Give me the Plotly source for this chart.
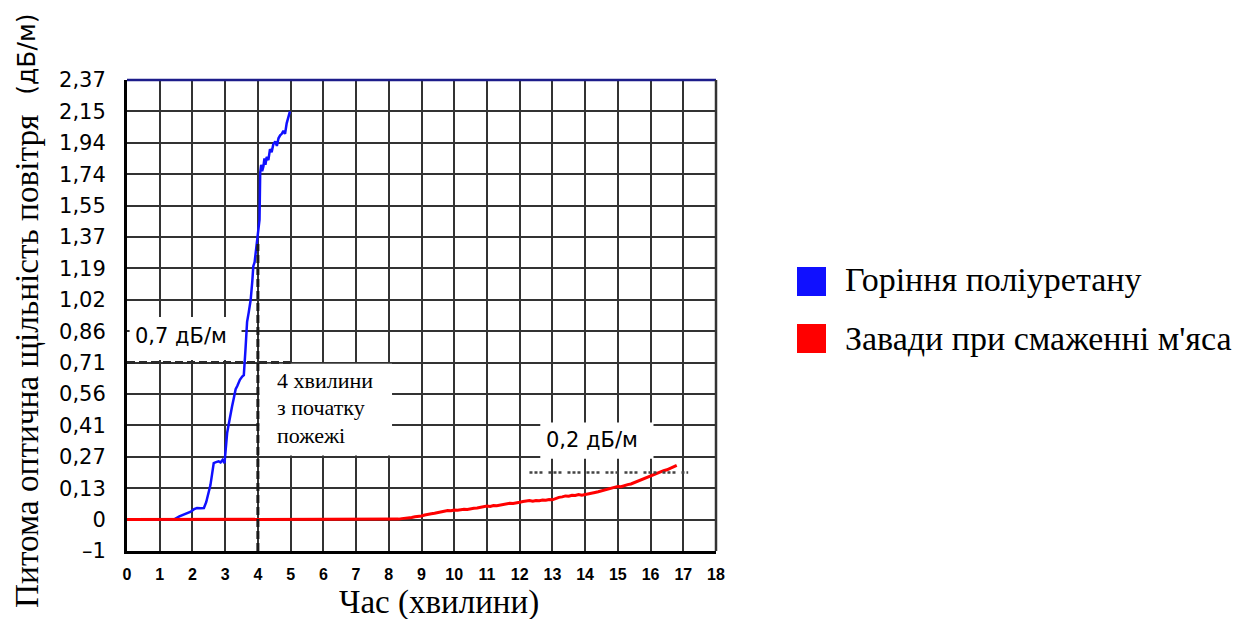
import numpy as np
import plotly.graph_objects as go

# ---- axis scales (the y scale is uniform in tick steps, not in dB/m) ----
y_tick_values = [-1, 0, 0.13, 0.27, 0.41, 0.56, 0.71, 0.86, 1.02, 1.19, 1.37, 1.55, 1.74, 1.94, 2.15, 2.37]
y_tick_labels = ["–1", "0", "0,13", "0,27", "0,41", "0,56", "0,71", "0,86", "1,02", "1,19",
                 "1,37", "1,55", "1,74", "1,94", "2,15", "2,37"]
x_ticks = list(range(0, 19))
x_tick_labels = [str(v) for v in x_ticks]

# ---- series: time (min) and specific optical density (dB/m) ----
poly_t = [0, 0.5, 1.0, 1.43, 1.6, 1.75, 1.84, 1.95, 2.05, 2.14, 2.25, 2.35, 2.42, 2.5, 2.55, 2.6,
          2.65, 2.72, 2.8, 2.86, 2.92, 2.98, 3.02, 3.06, 3.12, 3.17, 3.21, 3.27, 3.32, 3.37, 3.45,
          3.52, 3.57, 3.62, 3.67, 3.72, 3.78, 3.83, 3.86, 3.9, 3.95, 4.0, 4.02, 4.05, 4.07, 4.1,
          4.13, 4.17, 4.2, 4.23, 4.27, 4.32, 4.37, 4.42, 4.47, 4.53, 4.58, 4.63, 4.68, 4.73, 4.78,
          4.83, 4.88, 4.93, 4.98]
poly_v = [0, 0, 0, 0, 0.013, 0.022, 0.027, 0.033, 0.043, 0.048, 0.047, 0.048, 0.072, 0.11, 0.144, 0.193,
          0.242, 0.246, 0.25, 0.245, 0.256, 0.242, 0.298, 0.376, 0.425, 0.478, 0.5, 0.545, 0.583, 0.598, 0.628,
          0.643, 0.65, 0.77, 0.908, 0.956, 1.02, 1.122, 1.203, 1.226, 1.298, 1.37, 1.393, 1.469, 1.748, 1.80,
          1.76, 1.79, 1.84, 1.80, 1.85, 1.83, 1.90, 1.88, 1.93, 1.95, 1.92, 1.97, 1.99, 2.00, 2.02,
          2.00, 2.07, 2.12, 2.15]

meat_t = [0, 4.0, 8.0, 8.1, 8.2, 8.3, 8.4, 8.5, 8.6, 8.7, 8.8, 8.9, 9.0, 9.1, 9.2, 9.3, 9.4, 9.5,
          9.6, 9.7, 9.8, 9.9, 10.0, 10.1, 10.2, 10.3, 10.4, 10.5, 10.6, 10.7, 10.8, 10.9, 11.0, 11.1,
          11.2, 11.3, 11.4, 11.5, 11.6, 11.7, 11.8, 11.9, 12.0, 12.1, 12.2, 12.3, 12.4, 12.5, 12.6,
          12.7, 12.8, 12.9, 13.0, 13.1, 13.2, 13.3, 13.4, 13.5, 13.6, 13.7, 13.8, 13.9, 14.0, 14.1,
          14.2, 14.3, 14.4, 14.5, 14.6, 14.7, 14.8, 14.9, 15.0, 15.1, 15.2, 15.3, 15.4, 15.5, 15.6,
          15.7, 15.8, 15.9, 16.0, 16.1, 16.2, 16.3, 16.4, 16.5, 16.6, 16.7, 16.8]
meat_v = [0, 0, 0.000, 0.001, 0.002, 0.002, 0.004, 0.005, 0.008, 0.009, 0.012, 0.012, 0.015, 0.019,
          0.020, 0.024, 0.026, 0.029, 0.033, 0.034, 0.038, 0.037, 0.040, 0.039, 0.042, 0.043, 0.042,
          0.046, 0.047, 0.048, 0.051, 0.052, 0.056, 0.054, 0.058, 0.057, 0.060, 0.063, 0.064, 0.068,
          0.067, 0.071, 0.072, 0.075, 0.077, 0.079, 0.076, 0.079, 0.078, 0.081, 0.080, 0.083, 0.082,
          0.088, 0.092, 0.094, 0.098, 0.097, 0.101, 0.100, 0.104, 0.101, 0.103, 0.106, 0.109, 0.112,
          0.115, 0.119, 0.124, 0.126, 0.131, 0.133, 0.138, 0.137, 0.143, 0.146, 0.149, 0.155, 0.159,
          0.166, 0.172, 0.180, 0.185, 0.191, 0.198, 0.202, 0.208, 0.212, 0.219, 0.224, 0.232]

series_names = ["Горіння поліуретану", "Завади при смаженні м'яса"]
series_colors = ["#1010ff", "#ff0000"]

mark_time = 4          # minutes
mark_level_poly = 0.71  # dB/m
mark_level_meat = 0.2   # dB/m

tick_pos = np.arange(-1, len(y_tick_values) - 1)


def to_axis(v):
    return np.interp(v, y_tick_values, tick_pos)


fig = go.Figure()
fig.add_trace(go.Scatter(x=poly_t, y=to_axis(poly_v), mode="lines", name=series_names[0],
                         line=dict(color=series_colors[0], width=2.5), showlegend=False))
fig.add_trace(go.Scatter(x=meat_t, y=to_axis(meat_v), mode="lines", name=series_names[1],
                         line=dict(color=series_colors[1], width=3), showlegend=False))

yl = float(to_axis(mark_level_poly))
ym = float(to_axis(mark_level_meat))

shapes = [
    # white label boxes over the grid
    dict(type="rect", xref="x", yref="y", x0=0.08, x1=3.5, y0=yl + 0.08, y1=yl + 1.45,
         fillcolor="white", line=dict(width=0), layer="between"),
    dict(type="rect", xref="x", yref="y", x0=4.04, x1=8.1, y0=2.04, y1=yl - 0.04,
         fillcolor="white", line=dict(width=0), layer="between"),
    dict(type="rect", xref="x", yref="y", x0=12.63, x1=16.09, y0=1.94, y1=3.09,
         fillcolor="white", line=dict(width=0), layer="between"),
    # frame: top (navy) and right
    dict(type="line", xref="paper", yref="paper", x0=0, x1=1, y0=1, y1=1,
         line=dict(color="#1c1c8a", width=2.5), layer="above"),
    dict(type="line", xref="paper", yref="paper", x0=1, x1=1, y0=0, y1=1,
         line=dict(color="#333333", width=2.5), layer="above"),
    # reference lines
    dict(type="line", xref="x", yref="y", x0=0, x1=5.0, y0=yl, y1=yl,
         line=dict(color="#2a2a2a", width=3, dash="8px,4px"), layer="above"),
    dict(type="line", xref="x", yref="y", x0=mark_time, x1=mark_time, y0=-1, y1=float(to_axis(1.33)),
         line=dict(color="#1a1a1a", width=3, dash="8px,4px"), layer="above"),
    dict(type="line", xref="x", yref="y", x0=12.3, x1=17.15, y0=ym, y1=ym,
         line=dict(color="#444444", width=2.5, dash="3px,2px,3px,2px,3px,6px"), layer="above"),
    # legend squares
    dict(type="rect", xref="paper", yref="paper", x0=1.1375, x1=1.1868, y0=0.5414, y1=0.603,
         fillcolor=series_colors[0], line=dict(width=0)),
    dict(type="rect", xref="paper", yref="paper", x0=1.1375, x1=1.1868, y0=0.4204, y1=0.482,
         fillcolor=series_colors[1], line=dict(width=0)),
]

serif = "Liberation Serif, Times New Roman, serif"
sans = "DejaVu Sans, Verdana, sans-serif"

annotations = [
    dict(text="0,7 дБ/м", x=1.65, y=5.86, xref="x", yref="y", showarrow=False,
         font=dict(family=sans, size=21, color="black")),
    dict(text="0,2 дБ/м", x=14.22, y=2.55, xref="x", yref="y", showarrow=False,
         font=dict(family=sans, size=21, color="black")),
    dict(text="4 хвилини", x=4.53, y=4.43, xref="x", yref="y", showarrow=False, xanchor="left",
         font=dict(family=serif, size=22, color="black")),
    dict(text="з початку", x=4.53, y=3.57, xref="x", yref="y", showarrow=False, xanchor="left",
         font=dict(family=serif, size=22, color="black")),
    dict(text="пожежі", x=4.53, y=2.68, xref="x", yref="y", showarrow=False, xanchor="left",
         font=dict(family=serif, size=22, color="black")),
    # axis titles
    dict(text="Час (хвилини)", x=0.5297, y=-0.1104, xref="paper", yref="paper", showarrow=False,
         xanchor="center", yanchor="middle", font=dict(family=serif, size=33, color="black")),
    dict(text="Питома оптична щільність повітря", x=-0.1698, y=0.4034, xref="paper", yref="paper",
         showarrow=False, textangle=-90, xanchor="center", yanchor="middle",
         font=dict(family=serif, size=33.3, color="black")),
    dict(text="(дБ/м)", x=-0.172, y=1.0552, xref="paper", yref="paper",
         showarrow=False, textangle=-90, xanchor="center", yanchor="middle",
         font=dict(family=sans, size=25, color="black")),
    # legend texts
    dict(text=series_names[0], x=1.2156, y=0.5754, xref="paper", yref="paper", showarrow=False,
         xanchor="left", yanchor="middle", font=dict(family=serif, size=34, color="black")),
    dict(text=series_names[1], x=1.2156, y=0.4522, xref="paper", yref="paper", showarrow=False,
         xanchor="left", yanchor="middle", font=dict(family=serif, size=34, color="black")),
]

fig.update_layout(
    width=1234, height=619,
    margin=dict(l=127, r=518, t=80, b=68),
    paper_bgcolor="white", plot_bgcolor="white",
    showlegend=False,
    shapes=shapes,
    annotations=annotations,
    xaxis=dict(range=[0, 18], tickmode="array", tickvals=x_ticks, ticktext=x_tick_labels,
               showgrid=True, gridcolor="#333333", gridwidth=2, zeroline=False,
               showline=True, linecolor="black", linewidth=3, ticks="",
               ticklabelstandoff=7,
               tickfont=dict(family="Liberation Sans, Arial, sans-serif", size=16, color="black",
                             weight="bold")),
    yaxis=dict(range=[-1, 14], tickmode="array", tickvals=list(tick_pos), ticktext=y_tick_labels,
               showgrid=True, gridcolor="#333333", gridwidth=2, zeroline=False,
               showline=True, linecolor="black", linewidth=3, ticks="",
               ticklabelstandoff=14,
               tickfont=dict(family=sans, size=21, color="black")),
)

fig.write_html("out.html", config={"displayModeBar": False},
               post_script="document.body.style.margin='0px';")
